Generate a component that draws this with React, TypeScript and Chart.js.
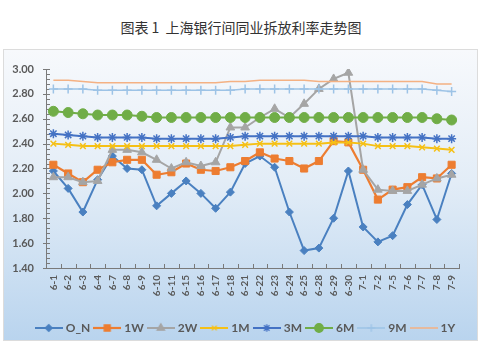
import React, { useEffect, useRef } from 'react';
import { Chart, registerables } from 'chart.js';
import { drawPoint } from 'chart.js/helpers';

Chart.register(...registerables);

const TITLE = '图表 1  上海银行间同业拆放利率走势图';

const categories = ['6-1','6-2','6-3','6-4','6-7','6-8','6-9','6-10','6-11','6-15','6-16','6-17','6-18','6-21','6-22','6-23','6-24','6-25','6-28','6-29','6-30','7-1','7-2','7-5','7-6','7-7','7-8','7-9'];

const seriesNames = ['O_N', '1W', '2W', '1M', '3M', '6M', '9M', '1Y'];

const ON = [2.18,2.04,1.85,2.11,2.30,2.20,2.19,1.90,2.00,2.10,2.00,1.88,2.01,2.24,2.30,2.21,1.85,1.54,1.56,1.80,2.18,1.73,1.61,1.66,1.91,2.07,1.79,2.16];
const W1 = [2.23,2.16,2.09,2.19,2.25,2.27,2.27,2.15,2.17,2.24,2.19,2.18,2.21,2.26,2.33,2.28,2.26,2.20,2.26,2.42,2.41,2.19,1.95,2.03,2.05,2.13,2.12,2.23];
const W2 = [2.13,2.13,2.09,2.10,2.35,2.35,2.33,2.27,2.20,2.25,2.22,2.25,2.53,2.53,2.61,2.68,2.61,2.72,2.84,2.92,2.97,2.19,2.03,2.02,2.02,2.07,2.12,2.15];
const M1 = [2.40,2.39,2.38,2.38,2.38,2.38,2.38,2.38,2.38,2.38,2.38,2.38,2.38,2.39,2.40,2.40,2.40,2.40,2.40,2.41,2.41,2.40,2.38,2.38,2.38,2.37,2.36,2.35];
const M3 = [2.48,2.47,2.46,2.45,2.45,2.45,2.45,2.44,2.44,2.44,2.44,2.44,2.45,2.46,2.46,2.46,2.46,2.46,2.46,2.46,2.46,2.46,2.45,2.45,2.45,2.45,2.44,2.44];
const M6 = [2.66,2.65,2.64,2.63,2.63,2.63,2.62,2.61,2.61,2.61,2.61,2.61,2.61,2.61,2.61,2.61,2.61,2.61,2.61,2.61,2.61,2.61,2.61,2.61,2.61,2.61,2.60,2.59];
const M9 = [2.84,2.84,2.84,2.83,2.83,2.83,2.83,2.83,2.83,2.83,2.83,2.83,2.83,2.84,2.84,2.84,2.84,2.84,2.84,2.84,2.84,2.84,2.84,2.84,2.84,2.84,2.83,2.82];
const Y1 = [2.91,2.91,2.90,2.89,2.89,2.89,2.89,2.89,2.89,2.89,2.89,2.89,2.90,2.90,2.91,2.91,2.91,2.91,2.90,2.90,2.90,2.90,2.90,2.90,2.90,2.90,2.88,2.88];

const seriesValues = [ON, W1, W2, M1, M3, M6, M9, Y1];

const Y_MIN = 1.4;
const Y_MAX = 3.0;
const Y_STEP = 0.2;
const Y_MINOR = 0.04;

const colors = ['#4a80c0', '#ED7D31', '#A5A5A5', '#F5C016', '#4472C4', '#70AD47', '#9DC3E6', '#F4B183'];
const pointStyles: (string | false)[] = ['rectRot', 'rect', 'triangle', 'crossRot', 'star', 'circle', 'cross', false];
const pointRadii = [4, 5, 5, 4, 4.5, 5, 4.5, 0];
const lineWidths = [2, 2.2, 2, 2, 2, 2, 1.5, 1.5];

function legendIcon(color: string, style: string | false, radius: number, lw: number) {
  const c = document.createElement('canvas');
  c.width = 28;
  c.height = 12;
  const ctx = c.getContext('2d')!;
  ctx.strokeStyle = color;
  ctx.lineWidth = lw;
  ctx.beginPath();
  ctx.moveTo(0, 6);
  ctx.lineTo(28, 6);
  ctx.stroke();
  if (style) {
    ctx.fillStyle = color;
    ctx.lineWidth = 1.3;
    drawPoint(ctx, { pointStyle: style as any, radius: radius * 0.85, rotation: 0, borderWidth: 1.3 }, 14, 6);
  }
  return c;
}

const axisTicksPlugin = {
  id: 'axisTicks',
  afterLayout(chart: any) {
    if (chart.legend) {
      chart.legend.left += 15;
      chart.legend.right += 15;
    }
  },
  beforeDatasetsDraw(chart: any) {
    const { ctx, chartArea } = chart;
    const y = chart.scales.y;
    const x = chart.scales.x;
    ctx.save();
    ctx.strokeStyle = '#7a7a7a';
    ctx.lineWidth = 1;
    ctx.beginPath();
    const n = Math.round((Y_MAX - Y_MIN) / Y_MINOR);
    for (let i = 0; i <= n; i++) {
      const v = Y_MIN + i * Y_MINOR;
      const py = Math.round(y.getPixelForValue(v)) + 0.5;
      const major = i % 5 === 0;
      ctx.moveTo(chartArea.left - (major ? 3 : 0), py);
      ctx.lineTo(chartArea.left + 4, py);
    }
    for (let i = 0; i <= categories.length; i++) {
      const px = Math.round(x.getPixelForValue(i - 0.5)) + 0.5;
      ctx.moveTo(px, chartArea.bottom);
      ctx.lineTo(px, chartArea.bottom - 4);
    }
    ctx.stroke();
    ctx.restore();
  },
};

export default function App() {
  const ref = useRef<HTMLCanvasElement | null>(null);

  useEffect(() => {
    if (!ref.current) return;
    const datasets = seriesNames.map((name, i) => ({
      label: name,
      data: seriesValues[i],
      borderColor: colors[i],
      backgroundColor: colors[i],
      borderWidth: lineWidths[i],
      pointStyle: pointStyles[i] as any,
      pointRadius: pointRadii[i],
      pointBorderWidth: pointStyles[i] === 'star' || pointStyles[i] === 'crossRot' || pointStyles[i] === 'cross' ? 1.5 : 1,
      pointBackgroundColor: colors[i],
      pointBorderColor: colors[i],
      tension: 0,
      order: seriesNames.length - i,
      legendImage: legendIcon(colors[i], pointStyles[i], pointRadii[i], lineWidths[i]),
    }));

    const chart = new Chart(ref.current, {
      type: 'line',
      data: { labels: categories, datasets: datasets as any },
      plugins: [axisTicksPlugin],
      options: {
        animation: false,
        responsive: false,
        maintainAspectRatio: false,
        layout: { padding: { top: 19, left: 0, right: 17, bottom: 6 } },
        plugins: {
          tooltip: { enabled: false },
          legend: {
            position: 'bottom',
            align: 'center',
            labels: {
              usePointStyle: true,
              pointStyleWidth: 22,
              padding: 6,
              color: '#595959',
              font: { family: 'Lato, "Liberation Sans", sans-serif', size: 12, weight: 'bold' },
              sort: (a: any, b: any) => a.datasetIndex - b.datasetIndex,
              generateLabels: (ch: any) =>
                ch.data.datasets.map((ds: any, i: number) => ({
                  text: ds.label,
                  datasetIndex: i,
                  pointStyle: ds.legendImage,
                  fillStyle: ds.borderColor,
                  strokeStyle: ds.borderColor,
                  lineWidth: 0,
                  hidden: false,
                  fontColor: '#595959',
                })),
            },
          },
        },
        scales: {
          x: {
            type: 'category',
            offset: true,
            grid: { display: false, drawTicks: false },
            border: { display: true, color: '#7a7a7a', width: 1 },
            ticks: {
              autoSkip: false,
              maxRotation: 90,
              minRotation: 90,
              padding: 7,
              color: '#595959',
              font: { family: 'Lato, "Liberation Sans", sans-serif', size: 10, weight: 'bold' },
            },
            afterFit: (s: any) => { s.height = 48; },
          },
          y: {
            min: Y_MIN,
            max: Y_MAX,
            grid: { display: false, drawTicks: false },
            border: { display: true, color: '#7a7a7a', width: 1 },
            ticks: {
              stepSize: Y_STEP,
              padding: 12,
              color: '#595959',
              font: { family: 'Lato, "Liberation Sans", sans-serif', size: 11, weight: 'bold' },
              callback: (v: any) => Number(v).toFixed(2),
            },
            afterFit: (s: any) => { s.width = 42; },
          },
        },
      },
    });
    return () => chart.destroy();
  }, []);

  return (
    <div style={{ position: 'absolute', left: 0, top: 0, width: 482, height: 353, background: '#ffffff', overflow: 'hidden' }}>
      <div
        style={{
          position: 'absolute', left: 0, top: 17, width: 482, textAlign: 'center',
          fontFamily: '"Noto Sans CJK SC", "Noto Sans", sans-serif', fontSize: 14, color: '#333333', lineHeight: '20px', whiteSpace: 'pre',
        }}
      >
        {TITLE}
      </div>
      <div
        style={{
          position: 'absolute', left: 3, top: 49, width: 475, height: 292, boxSizing: 'border-box',
          border: '1px solid #dcdcdc',
          background: 'linear-gradient(to bottom, #f7f9fc 0%, #e3edf7 45%, #b9d4ee 100%)',
        }}
      />
      <canvas ref={ref} width={472} height={300} style={{ position: 'absolute', left: 4, top: 50, width: 472, height: 300 }} />
    </div>
  );
}
